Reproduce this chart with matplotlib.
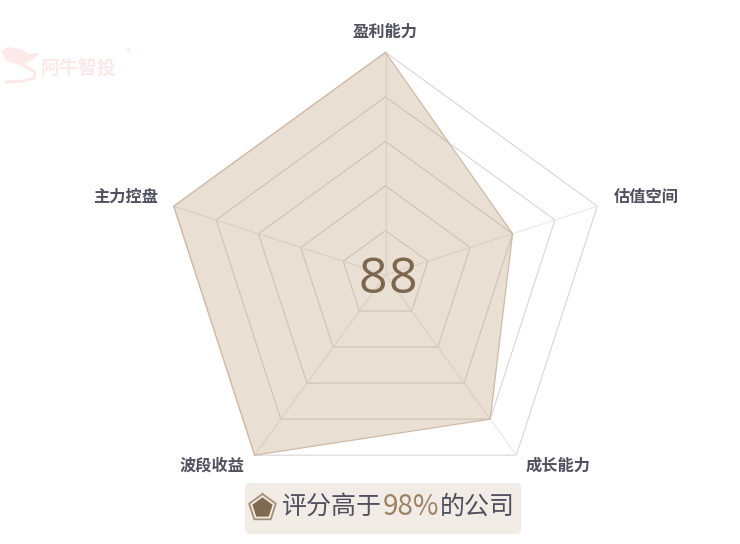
import numpy as np
import matplotlib
matplotlib.use("Agg")
import matplotlib.pyplot as plt
from matplotlib.patches import FancyBboxPatch, PathPatch
from matplotlib.path import Path

plt.rcParams['font.family'] = ['Noto Sans CJK SC', 'DejaVu Sans']

# chart values
labels = ['盈利能力', '估值空间', '成长能力', '波段收益', '主力控盘']
scores = [100, 60, 80, 100, 100]
rings = [20, 40, 60, 80, 100]
total_score = '88'
caption_left = '评分高于'
caption_pct = '98%'
caption_right = '的公司'
icon_score = [76, 76, 76, 76, 76]

W, H = 740, 544
cx, cy, R = 385.5, 275.0, 222.7
label_col = '#50505F'
angles = np.arange(5) * 2 * np.pi / 5


def closed(v):
    return list(v) + [v[0]]


def radar_axes(x, y, r):
    ax = fig.add_axes([(x - r) / W, (H - y - r) / H, 2 * r / W, 2 * r / H], polar=True)
    ax.set_theta_zero_location('N')
    ax.set_theta_direction(-1)
    ax.set_ylim(0, 100)
    ax.axis('off')
    ax.patch.set_alpha(0)
    return ax


fig = plt.figure(figsize=(W / 100, H / 100), dpi=100, facecolor='white')

# page layer in pixel coordinates (y down)
bg = fig.add_axes([0, 0, 1, 1])
bg.set_xlim(0, W)
bg.set_ylim(H, 0)
bg.axis('off')

bg.add_patch(FancyBboxPatch((249, 487), 268, 43, boxstyle='round,pad=4,rounding_size=5',
                            fc='#F1ECE6', ec='none'))
bg.text(282, 507, caption_left, fontsize=18, color=label_col, ha='left', va='center')
bg.text(411.5, 507, caption_pct, fontsize=20, color='#9C8263', ha='center', va='center')
bg.text(514.5, 507, caption_right, fontsize=18, color=label_col, ha='right', va='center')

# watermark
pink = '#FCE9E8'
logo = Path([(1, 51), (8, 47), (20, 49), (30, 54), (40, 53), (33, 60), (24, 64), (12, 63),
             (6, 60), (1, 51)], closed=False)
bg.add_patch(PathPatch(logo, fc=pink, ec='none'))
bg.plot([18, 27, 35, 34, 24, 6], [63, 67, 72, 78, 81, 82], color=pink, lw=2.2)
bg.text(78.5, 68, '阿牛智投', fontsize=13.6, fontweight='bold', color=pink, ha='center', va='center')
bg.text(128, 54, '®', fontsize=8, color=pink, ha='center', va='center')

# main radar
ax = radar_axes(cx, cy, R)
for r in rings:
    ax.plot(closed(angles), [r] * 6, color='#D6D6D6', lw=0.8, clip_on=False, zorder=1)
for a in angles:
    ax.plot([a, a], [0, 100], color='#E8E8E8', lw=0.8, clip_on=False, zorder=1)
ax.fill(closed(angles), closed(scores), color='#BC9670', alpha=0.3, lw=0, clip_on=False, zorder=2)
ax.plot(closed(angles), closed(scores), color='#D0BAA6', lw=0.9, clip_on=False, zorder=3)

# icon next to the caption
icon = radar_axes(262.5, 508, 14)
icon.plot(closed(angles), [100] * 6, color='#A58F76', lw=1.3, clip_on=False)
icon.fill(closed(angles), closed(icon_score), color='#806A50', lw=0, clip_on=False)

# text on top of everything
top = fig.add_axes([0, 0, 1, 1])
top.set_xlim(0, W)
top.set_ylim(H, 0)
top.axis('off')
top.patch.set_alpha(0)
label_pos = [(385, 32), (646, 197), (558.5, 466), (212.5, 466), (125.5, 197)]
for name, (x, y) in zip(labels, label_pos):
    top.text(x, y, name, fontsize=11.7, fontweight='bold', color=label_col, ha='center', va='center')
for ch, x in zip(total_score, [372.5, 402.5]):
    top.text(x, 280, ch, fontsize=36, family='Open Sans', color='#7D684F', ha='center', va='center')

fig.savefig('out.png', dpi=100)
